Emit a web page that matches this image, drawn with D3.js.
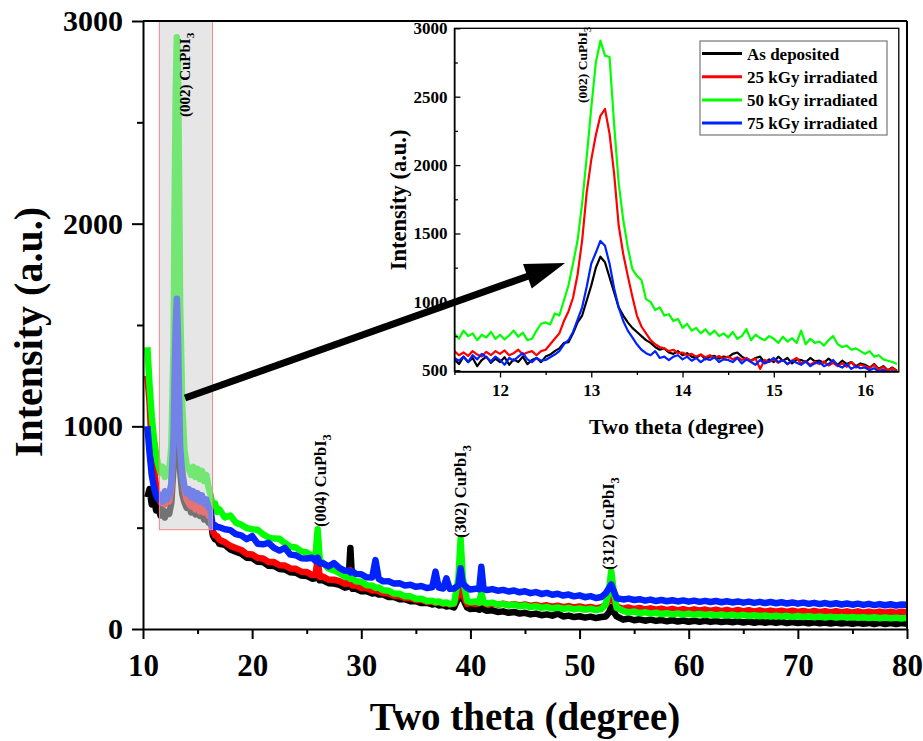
<!DOCTYPE html>
<html>
<head>
<meta charset="utf-8">
<script src="https://cdn.jsdelivr.net/npm/d3@7"></script>
<style>
  body { margin: 0; background: #fff; }
  svg { display: block; }
  text { font-family: "Liberation Serif", "Times New Roman", serif; font-weight: bold; fill: #000; }
</style>
</head>
<body>
<svg id="chart" width="923" height="741"></svg>
<script>
// ---- XRD patterns of CuPbI3 films before and after gamma irradiation ----
const legendLabels = ["As deposited", "25 kGy irradiated", "50 kGy irradiated", "75 kGy irradiated"];
const seriesColors = ["#000000", "#ff0000", "#00ff00", "#0022ff"];

// full scan, two theta (degree)
const mainTheta = [
  10.4, 10.6, 10.8, 11.0, 11.2, 11.4, 11.6, 11.8, 12.0, 12.2,
  12.4, 12.6, 12.8, 12.9, 13.0, 13.1, 13.2, 13.3, 13.4, 13.6,
  13.8, 14.0, 14.2, 14.4, 14.6, 14.8, 15.0, 15.2, 15.4, 15.6,
  15.8, 16.0, 16.2, 16.4, 16.6, 16.8, 17.0, 17.5, 18.0, 18.5,
  19.0, 19.5, 20.0, 20.5, 21.0, 21.5, 22.0, 22.5, 23.0, 23.5,
  24.0, 24.5, 25.0, 25.5, 25.8, 26.0, 26.2, 26.5, 27.0, 27.5,
  28.0, 28.5, 28.8, 29.0, 29.2, 29.5, 30.0, 30.5, 31.0, 31.3,
  31.6, 32.0, 32.5, 33.0, 33.5, 34.0, 34.5, 35.0, 35.5, 36.0,
  36.5, 36.8, 37.1, 37.5, 37.8, 38.1, 38.5, 38.9, 39.1, 39.3,
  39.7, 40.0, 40.5, 40.8, 41.0, 41.2, 41.5, 42.0, 42.5, 43.0,
  43.5, 44.0, 44.5, 45.0, 45.5, 46.0, 46.5, 47.0, 47.5, 48.0,
  48.5, 49.0, 49.5, 50.0, 50.5, 51.0, 51.5, 52.0, 52.4, 52.7,
  52.9, 53.1, 53.4, 54.0, 54.5, 55.0, 55.5, 56.0, 56.5, 57.0,
  57.5, 58.0, 58.5, 59.0, 59.5, 60.0, 60.5, 61.0, 61.5, 62.0,
  62.5, 63.0, 63.5, 64.0, 64.5, 65.0, 65.5, 66.0, 66.5, 67.0,
  67.5, 68.0, 68.5, 69.0, 69.5, 70.0, 70.5, 71.0, 71.5, 72.0,
  72.5, 73.0, 73.5, 74.0, 74.5, 75.0, 75.5, 76.0, 76.5, 77.0,
  77.5, 78.0, 78.5, 79.0, 79.5, 80.0
];

const mainAsDeposited = [
  650, 690, 615, 645, 585, 605, 560, 590, 550, 578,
  568, 625, 800, 950, 1120, 1300, 1180, 960, 780, 665,
  625, 598, 615, 575, 605, 565, 595, 558, 585, 540,
  560, 525, 540, 462, 442, 440, 420, 415, 392, 382,
  372, 352, 350, 332, 330, 312, 311, 296, 294, 280,
  278, 264, 262, 248, 250, 300, 240, 240, 226, 224,
  218, 204, 208, 400, 198, 198, 186, 186, 175, 178,
  170, 170, 158, 158, 147, 147, 137, 137, 128, 130,
  121, 125, 116, 118, 111, 114, 106, 155, 215, 150,
  106, 99, 101, 95, 130, 97, 90, 92, 84, 87,
  80, 84, 76, 80, 72, 76, 68, 72, 66, 76,
  62, 66, 59, 63, 56, 61, 54, 59, 62, 82,
  108, 88, 62, 46, 52, 43, 48, 41, 46, 40,
  44, 38, 43, 37, 42, 36, 41, 35, 40, 35,
  39, 34, 38, 33, 38, 32, 37, 31, 36, 31,
  35, 30, 35, 29, 34, 29, 33, 28, 33, 28,
  32, 27, 32, 27, 31, 26, 31, 26, 30, 25,
  30, 25, 29, 25, 29, 26
];

const main25kGy = [
  1250, 1120, 900, 790, 705, 650, 625, 650, 615, 640,
  630, 700, 1000, 1500, 2100, 2430, 2200, 1650, 1140, 780,
  690, 640, 620, 605, 625, 590, 615, 580, 620, 575,
  590, 560, 550, 482, 462, 458, 440, 428, 410, 400,
  390, 370, 368, 350, 348, 331, 331, 314, 313, 299,
  297, 283, 281, 266, 268, 340, 257, 258, 243, 243,
  236, 223, 225, 290, 215, 216, 202, 202, 190, 192,
  186, 177, 175, 164, 163, 153, 153, 143, 144, 135,
  136, 130, 132, 125, 127, 122, 124, 175, 245, 170,
  124, 129, 123, 128, 165, 128, 122, 126, 120, 125,
  118, 123, 116, 121, 114, 119, 112, 117, 110, 115,
  108, 113, 106, 111, 104, 109, 102, 107, 120, 142,
  168, 142, 110, 100, 106, 98, 104, 96, 102, 95,
  100, 93, 99, 92, 98, 91, 97, 90, 96, 89,
  95, 88, 94, 87, 94, 87, 93, 86, 92, 85,
  91, 85, 90, 84, 90, 84, 89, 83, 89, 83,
  88, 82, 88, 82, 87, 81, 87, 81, 86, 80,
  86, 80, 85, 79, 85, 82
];

const main50kGy = [
  1390, 1200, 1050, 940, 860, 810, 770, 800, 750, 790,
  780, 900, 1400, 2100, 2650, 2920, 2800, 2250, 1600, 1100,
  880, 810, 790, 760, 800, 750, 790, 740, 780, 730,
  760, 700, 660, 600, 620, 578, 590, 550, 560, 525,
  515, 498, 492, 490, 468, 451, 446, 445, 424, 406,
  402, 383, 378, 359, 358, 492, 342, 325, 299, 289,
  276, 257, 258, 247, 250, 236, 233, 216, 214, 204,
  205, 191, 189, 175, 174, 161, 161, 149, 149, 138,
  140, 132, 136, 127, 131, 123, 127, 250, 445, 250,
  138, 132, 136, 129, 178, 134, 126, 130, 121, 124,
  116, 121, 112, 117, 108, 113, 104, 109, 101, 106,
  99, 104, 97, 102, 95, 100, 93, 98, 122, 192,
  285, 200, 105, 90, 82, 86, 78, 83, 76, 80,
  74, 78, 72, 77, 71, 76, 70, 74, 69, 73,
  67, 72, 66, 71, 65, 70, 64, 68, 63, 67,
  62, 66, 61, 65, 60, 64, 59, 63, 58, 62,
  57, 61, 56, 60, 56, 59, 55, 58, 54, 58,
  53, 57, 53, 56, 52, 55
];

const main75kGy = [
  1000, 870, 760, 700, 660, 640, 660, 630, 680, 640,
  660, 720, 950, 1250, 1500, 1630, 1450, 1150, 900, 760,
  700, 670, 690, 650, 680, 640, 670, 630, 660, 620,
  640, 600, 585, 500, 512, 503, 502, 492, 488, 468,
  462, 443, 458, 421, 418, 425, 400, 387, 400, 367,
  364, 349, 348, 352, 336, 352, 323, 324, 309, 325,
  301, 287, 289, 279, 284, 272, 270, 255, 254, 340,
  247, 235, 236, 224, 226, 215, 218, 208, 212, 202,
  206, 283, 204, 200, 250, 198, 200, 215, 300, 225,
  203, 195, 199, 196, 307, 198, 192, 197, 189, 193,
  185, 190, 181, 186, 177, 182, 173, 178, 169, 174,
  165, 170, 161, 166, 157, 162, 153, 158, 176, 202,
  220, 192, 152, 146, 150, 143, 147, 140, 145, 138,
  143, 137, 142, 136, 141, 135, 140, 134, 139, 133,
  138, 132, 137, 131, 136, 130, 135, 129, 134, 128,
  133, 127, 132, 126, 131, 125, 130, 124, 129, 123,
  128, 122, 127, 121, 126, 120, 125, 119, 124, 118,
  123, 117, 122, 116, 121, 119
];

// zoomed scan around the (002) reflection: 11.50 .. 16.35 in 0.05 degree steps
const insetStart = 11.5;
const insetStep = 0.05;

const insetAsDeposited = [
  580, 545, 600, 560, 590, 530, 575, 600, 555, 585,
  560, 595, 540, 580, 560, 600, 545, 575, 590, 560,
  600, 615, 640, 660, 700, 705, 770, 850, 900, 1010,
  1120, 1250, 1330, 1290, 1180, 1070, 960, 900, 850, 810,
  780, 750, 720, 700, 670, 650, 660, 630, 620, 640,
  610, 625, 600, 590, 615, 580, 600, 605, 585, 600,
  595, 620, 630, 600, 580, 570, 590, 600, 555, 580,
  560, 600, 570, 590, 550, 580, 575, 560, 590, 565,
  570, 555, 585, 560, 540, 570, 545, 560, 530, 550,
  540, 520, 545, 510, 530, 500, 520, 495
];

const inset25kGy = [
  640, 610, 630, 605, 640, 615, 600, 635, 610, 640,
  620, 645, 610, 625, 650, 615, 630, 640, 610, 640,
  650, 690, 730, 770, 860, 930, 1030, 1200, 1450, 1800,
  2040, 2220, 2360, 2410, 2230, 1940, 1560, 1350, 1190, 1040,
  900, 820, 770, 720, 690, 670, 660, 640, 650, 625,
  630, 610, 620, 600, 615, 595, 610, 590, 605, 585,
  600, 580, 595, 575, 590, 570, 585, 510, 575, 560,
  580, 555, 575, 545, 570, 590, 550, 565, 540, 560,
  545, 565, 535, 555, 530, 550, 525, 560, 520, 540,
  530, 515, 540, 505, 525, 500, 515, 495
];

const inset50kGy = [
  770, 730, 790, 750, 770, 720, 760, 740, 780, 730,
  760, 725, 755, 790, 745, 775, 720, 730, 790, 840,
  850, 835, 915, 900, 1010, 1120, 1280, 1450, 1720, 2060,
  2420, 2750, 2910, 2800, 2790, 2300, 1870, 1600, 1400, 1240,
  1190, 1160, 1020, 1000, 940, 960, 900, 910, 860, 875,
  810, 840, 790, 810, 770, 800, 760, 790, 750, 770,
  740, 780, 730, 750, 800, 720, 760, 735, 720, 750,
  730, 700, 745, 710, 735, 700, 790, 690, 730, 700,
  710, 680, 720, 750, 690, 670, 680, 650, 660, 640,
  620, 640, 600, 610, 580, 570, 560, 545
];

const inset75kGy = [
  590, 570, 600, 560, 610, 580, 620, 595, 565, 600,
  575, 540, 590, 570, 600, 625, 580, 560, 590, 570,
  575, 595, 615, 640, 690, 720, 780, 870, 960, 1110,
  1280, 1360, 1445, 1410, 1280, 1100, 960, 860, 790, 740,
  690, 650, 625, 610, 640, 590, 600, 575, 600, 610,
  580, 600, 570, 590, 560, 585, 575, 595, 560, 580,
  575, 560, 590, 550, 580, 560, 540, 575, 550, 565,
  590, 560, 575, 545, 570, 555, 540, 565, 530, 550,
  560, 530, 545, 575, 535, 520, 545, 510, 530, 515,
  520, 500, 515, 490, 505, 485, 495, 480
];

// axis ticks
const mainXTicks = [10, 20, 30, 40, 50, 60, 70, 80];
const mainXMinor = [15, 25, 35, 45, 55, 65, 75];
const mainYTicks = [0, 1000, 2000, 3000];
const mainYMinor = [500, 1500, 2500];
const insetXTicks = [12, 13, 14, 15, 16];
const insetXMinor = [11.5, 12.5, 13.5, 14.5, 15.5];
const insetYTicks = [500, 1000, 1500, 2000, 2500, 3000];
const insetYMinor = [750, 1250, 1750, 2250, 2750];

// reflection labels: [hkl, two theta, intensity at label start, font size]
const mainPeakLabels = [
  ["(002)", 14.3, 2526, 15],
  ["(004)", 26.75, 503, 16.5],
  ["(302)", 39.6, 449, 16.5],
  ["(312)", 53.15, 291, 16.5]
];
const insetPeakLabel = ["(002)", 12.95, 2454, 13.5];

// zoom window and pointer arrow (main-plot data coordinates)
const zoomWindow = { x0: 11.5, x1: 16.37, y0: 490, y1: 3000 };
const arrowEnds = [[13.85, 1140], [48.67, 1806]];

// ---------------------------------------------------------------------------
const svg = d3.select("#chart");
const mainSeries = [mainAsDeposited, main25kGy, main50kGy, main75kGy];
const insetSeries = [insetAsDeposited, inset25kGy, inset50kGy, inset75kGy];

const mx = d3.scaleLinear().domain([10, 80]).range([143, 907]);
const my = d3.scaleLinear().domain([0, 3000]).range([629, 21]);

const ix = d3.scaleLinear().domain([11.5, 16.37]).range([454.4, 898.8]);
const iy = d3.scaleLinear().domain([491, 3000]).range([371.5, 28.3]);

const defs = svg.append("defs");
defs.append("clipPath").attr("id", "clipMain").append("rect")
  .attr("x", mx(10)).attr("y", my(3000)).attr("width", mx(80) - mx(10)).attr("height", my(0) - my(3000));
defs.append("clipPath").attr("id", "clipInset").append("rect")
  .attr("x", ix(11.5)).attr("y", iy(3000)).attr("width", ix(16.37) - ix(11.5)).attr("height", iy(491) - iy(3000));

function styleAxis(g, width) {
  g.select(".domain").attr("stroke", "#000").attr("stroke-width", width);
  g.selectAll(".tick line").attr("stroke", "#000").attr("stroke-width", width);
}

// ---- main plot ----
const mainLine = d3.line().x(d => mx(d[0])).y(d => my(d[1])).curve(d3.curveLinear);
const mainG = svg.append("g").attr("clip-path", "url(#clipMain)");
mainSeries.forEach((vals, k) => {
  if (vals.length !== mainTheta.length) console.error("length mismatch", k);
  mainG.append("path")
    .datum(mainTheta.map((t, i) => [t, vals[i]]))
    .attr("d", mainLine)
    .attr("fill", "none")
    .attr("stroke", seriesColors[k])
    .attr("stroke-width", 6.5)
    .attr("stroke-linejoin", "round");
});

// shaded zoom window
svg.append("rect")
  .attr("x", mx(zoomWindow.x0)).attr("y", my(zoomWindow.y1))
  .attr("width", mx(zoomWindow.x1) - mx(zoomWindow.x0))
  .attr("height", my(zoomWindow.y0) - my(zoomWindow.y1))
  .attr("fill", "rgba(210,210,210,0.55)")
  .attr("stroke", "#f28a8a").attr("stroke-width", 1);

// main frame (top and right)
svg.append("line").attr("x1", mx(10)).attr("x2", mx(80)).attr("y1", my(3000)).attr("y2", my(3000))
  .attr("stroke", "#000").attr("stroke-width", 2);
svg.append("line").attr("x1", mx(80)).attr("x2", mx(80)).attr("y1", my(3000)).attr("y2", my(0))
  .attr("stroke", "#000").attr("stroke-width", 2);

// main axes
const gx = svg.append("g").attr("transform", `translate(0,${my(0)})`)
  .call(d3.axisBottom(mx).tickValues(mainXTicks).tickSize(10).tickSizeOuter(0).tickPadding(15).tickFormat(d3.format("d")));
gx.selectAll("text").attr("font-size", 31);
styleAxis(gx, 2);
const gxm = svg.append("g").attr("transform", `translate(0,${my(0)})`)
  .call(d3.axisBottom(mx).tickValues(mainXMinor).tickSize(5).tickSizeOuter(0).tickFormat(""));
gxm.select(".domain").remove();
styleAxis(gxm, 2);

const gy = svg.append("g").attr("transform", `translate(${mx(10)},0)`)
  .call(d3.axisLeft(my).tickValues(mainYTicks).tickSize(11).tickSizeOuter(0).tickPadding(9).tickFormat(d3.format("d")));
gy.selectAll("text").attr("font-size", 30);
styleAxis(gy, 2);
const gym = svg.append("g").attr("transform", `translate(${mx(10)},0)`)
  .call(d3.axisLeft(my).tickValues(mainYMinor).tickSize(6).tickSizeOuter(0).tickFormat(""));
gym.select(".domain").remove();
styleAxis(gym, 2);

svg.append("text").attr("x", (mx(10) + mx(80)) / 2).attr("y", 730)
  .attr("text-anchor", "middle").attr("font-size", 39).text("Two theta (degree)");
svg.append("text").attr("transform", "translate(42,332) rotate(-90)")
  .attr("text-anchor", "middle").attr("font-size", 40).text("Intensity (a.u.)");

function peakLabel(parent, x, y, hkl, size) {
  const t = parent.append("text")
    .attr("transform", `translate(${x},${y}) rotate(-90)`)
    .attr("font-size", size);
  t.append("tspan").text(hkl + " CuPbI");
  t.append("tspan").attr("font-size", size * 0.75).attr("dy", size * 0.3).text("3");
}
mainPeakLabels.forEach(([hkl, t, v, size]) => peakLabel(svg, mx(t), my(v), hkl, size));

// ---- inset ----
const insetLine = d3.line()
  .x((d, i) => ix(insetStart + i * insetStep))
  .y(d => iy(d));
const insetG = svg.append("g").attr("clip-path", "url(#clipInset)");
insetSeries.forEach((vals, k) => {
  insetG.append("path")
    .datum(vals)
    .attr("d", insetLine)
    .attr("fill", "none")
    .attr("stroke", seriesColors[k])
    .attr("stroke-width", 2.2)
    .attr("stroke-linejoin", "round");
});

svg.append("rect")
  .attr("x", ix(11.5)).attr("y", iy(3000))
  .attr("width", ix(16.37) - ix(11.5)).attr("height", iy(491) - iy(3000))
  .attr("fill", "none").attr("stroke", "#000").attr("stroke-width", 1.3);

const igx = svg.append("g").attr("transform", `translate(0,${iy(491)})`)
  .call(d3.axisBottom(ix).tickValues(insetXTicks).tickSize(6).tickSizeOuter(0).tickPadding(6).tickFormat(d3.format("d")));
igx.selectAll("text").attr("font-size", 17);
styleAxis(igx, 1.3);
const igxm = svg.append("g").attr("transform", `translate(0,${iy(491)})`)
  .call(d3.axisBottom(ix).tickValues(insetXMinor).tickSize(3.5).tickSizeOuter(0).tickFormat(""));
igxm.select(".domain").remove();
styleAxis(igxm, 1.3);

const igy = svg.append("g").attr("transform", `translate(${ix(11.5)},0)`)
  .call(d3.axisLeft(iy).tickValues(insetYTicks).tickSize(-6).tickSizeOuter(0).tickPadding(7).tickFormat(d3.format("d")));
igy.selectAll("text").attr("font-size", 17);
styleAxis(igy, 1.3);
const igym = svg.append("g").attr("transform", `translate(${ix(11.5)},0)`)
  .call(d3.axisLeft(iy).tickValues(insetYMinor).tickSize(-3.5).tickSizeOuter(0).tickFormat(""));
igym.select(".domain").remove();
styleAxis(igym, 1.3);

svg.append("text").attr("x", (ix(11.5) + ix(16.37)) / 2).attr("y", 434)
  .attr("text-anchor", "middle").attr("font-size", 22).text("Two theta (degree)");
svg.append("text").attr("transform", `translate(406,${(iy(491) + iy(3000)) / 2}) rotate(-90)`)
  .attr("text-anchor", "middle").attr("font-size", 22.5).text("Intensity (a.u.)");

peakLabel(svg, ix(insetPeakLabel[1]), iy(insetPeakLabel[2]), insetPeakLabel[0], insetPeakLabel[3]);

// legend
const legend = svg.append("g").attr("transform", "translate(700,41)");
legend.append("rect").attr("width", 187).attr("height", 94)
  .attr("fill", "#fff").attr("stroke", "#777").attr("stroke-width", 1.2);
legendLabels.forEach((name, k) => {
  const y = 12.5 + k * 23.2;
  legend.append("line").attr("x1", 2).attr("x2", 42).attr("y1", y).attr("y2", y)
    .attr("stroke", seriesColors[k]).attr("stroke-width", 3);
  legend.append("text").attr("x", 47).attr("y", y + 6).attr("font-size", 17).text(name);
});

// pointer arrow from the zoom window to the inset
(function () {
  const p0 = [mx(arrowEnds[0][0]), my(arrowEnds[0][1])];
  const p1 = [mx(arrowEnds[1][0]), my(arrowEnds[1][1])];
  const dx = p1[0] - p0[0], dy = p1[1] - p0[1];
  const len = Math.hypot(dx, dy);
  const ux = dx / len, uy = dy / len;
  const headLen = 40, headHalf = 13;
  const base = [p1[0] - ux * headLen, p1[1] - uy * headLen];
  svg.append("line")
    .attr("x1", p0[0]).attr("y1", p0[1])
    .attr("x2", base[0] + ux * 2).attr("y2", base[1] + uy * 2)
    .attr("stroke", "#000").attr("stroke-width", 7);
  svg.append("polygon")
    .attr("points", [
      p1,
      [base[0] - uy * headHalf, base[1] + ux * headHalf],
      [base[0] + uy * headHalf, base[1] - ux * headHalf]
    ].map(p => p.join(",")).join(" "))
    .attr("fill", "#000");
})();
</script>
</body>
</html>
